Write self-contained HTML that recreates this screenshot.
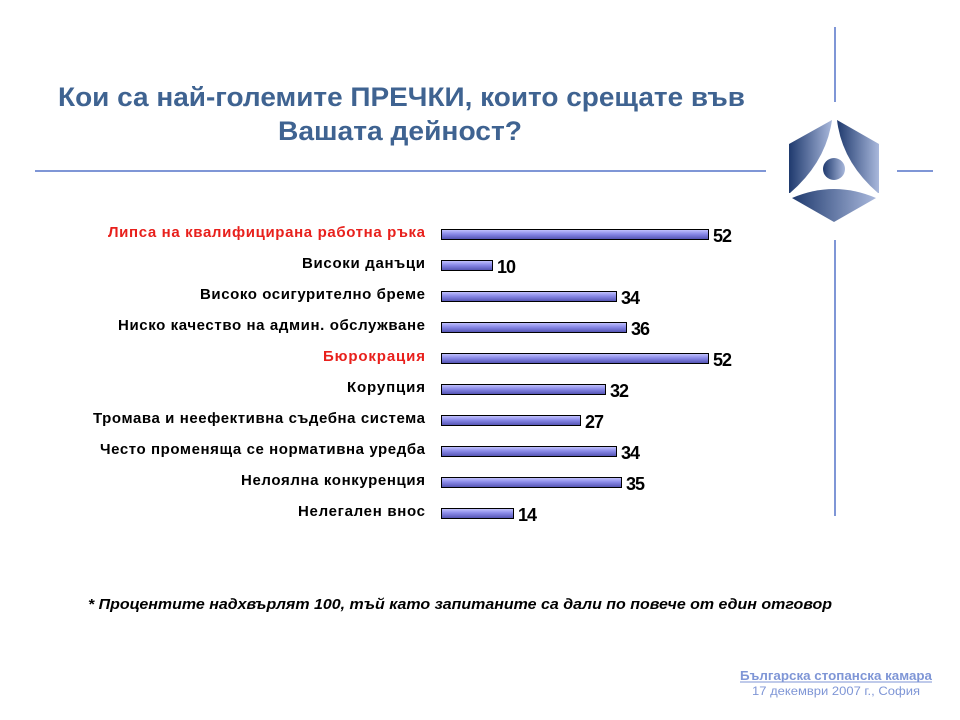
<!DOCTYPE html>
<html><head><meta charset="utf-8"><style>
html,body{margin:0;padding:0;background:#fff;}
svg{display:block;}
</style></head><body>
<svg width="960" height="720" viewBox="0 0 960 720" xmlns="http://www.w3.org/2000/svg" font-family="Liberation Sans, DejaVu Sans, sans-serif">
<defs>
<linearGradient id="bar" x1="0" y1="0" x2="0" y2="1">
<stop offset="0" stop-color="#c8c8ff"/><stop offset="0.45" stop-color="#8a8ae8"/><stop offset="1" stop-color="#5050b0"/>
</linearGradient>
<linearGradient id="lg" x1="0" y1="0" x2="1" y2="0">
<stop offset="0" stop-color="#1f3a6e"/><stop offset="1" stop-color="#a9b8dc"/>
</linearGradient>
</defs>
<line x1="835" y1="27" x2="835" y2="102" stroke="#7f96d6" stroke-width="2"/>
<line x1="835" y1="240" x2="835" y2="516" stroke="#7f96d6" stroke-width="2"/>
<line x1="35" y1="171" x2="766" y2="171" stroke="#7f96d6" stroke-width="2"/>
<line x1="897" y1="171" x2="933" y2="171" stroke="#7f96d6" stroke-width="2"/>
<!-- logo -->
<path d="M832 120 Q826 162 790 193 L789 193 L789 144 Z" fill="url(#lg)"/>
<path d="M837 120 L879 144 L879 193 L878 193 Q842 162 837 120 Z" fill="url(#lg)"/>
<path d="M792 198 Q834 180 876 198 L834 222 Z" fill="url(#lg)"/>
<circle cx="834" cy="169" r="11" fill="url(#lg)"/>
<g font-weight="bold" fill="#3f6391" font-size="27">
<text x="58" y="106" textLength="687" lengthAdjust="spacingAndGlyphs">Кои са най-големите ПРЕЧКИ, които срещате във</text>
<text x="278" y="140" textLength="244" lengthAdjust="spacingAndGlyphs">Вашата дейност?</text>
</g>
<g font-size="15" font-weight="bold" fill="#000" lengthAdjust="spacingAndGlyphs">
<text x="108" y="237" textLength="317" fill="#e8201c">Липса на квалифицирана работна ръка</text>
<text x="302" y="268" textLength="123">Високи данъци</text>
<text x="200" y="299" textLength="225">Високо осигурително бреме</text>
<text x="118" y="330" textLength="307">Ниско качество на админ.  обслужване</text>
<text x="323" y="361" textLength="102" fill="#e8201c">Бюрокрация</text>
<text x="347" y="392" textLength="78">Корупция</text>
<text x="93" y="423" textLength="332">Тромава и неефективна съдебна система</text>
<text x="100" y="454" textLength="325">Често променяща се нормативна уредба</text>
<text x="241" y="485" textLength="184">Нелоялна конкуренция</text>
<text x="298" y="516" textLength="127">Нелегален внос</text>
</g>
<g stroke="#000" stroke-width="1" fill="url(#bar)">
<rect x="441.5" y="229.5" width="267" height="10"/>
<rect x="441.5" y="260.5" width="51" height="10"/>
<rect x="441.5" y="291.5" width="175" height="10"/>
<rect x="441.5" y="322.5" width="185" height="10"/>
<rect x="441.5" y="353.5" width="267" height="10"/>
<rect x="441.5" y="384.5" width="164" height="10"/>
<rect x="441.5" y="415.5" width="139" height="10"/>
<rect x="441.5" y="446.5" width="175" height="10"/>
<rect x="441.5" y="477.5" width="180" height="10"/>
<rect x="441.5" y="508.5" width="72" height="10"/>
</g>
<g font-weight="bold" font-size="18" fill="#000" lengthAdjust="spacingAndGlyphs">
<text x="713" y="242" textLength="19">52</text>
<text x="497" y="273" textLength="19">10</text>
<text x="621" y="304" textLength="19">34</text>
<text x="631" y="335" textLength="19">36</text>
<text x="713" y="366" textLength="19">52</text>
<text x="610" y="397" textLength="19">32</text>
<text x="585" y="428" textLength="19">27</text>
<text x="621" y="459" textLength="19">34</text>
<text x="626" y="490" textLength="19">35</text>
<text x="518" y="521" textLength="19">14</text>
</g>
<text x="88" y="609" textLength="744" lengthAdjust="spacingAndGlyphs" font-size="15" font-weight="bold" font-style="italic" fill="#000">* Процентите надхвърлят 100, тъй като запитаните са дали по повече от един отговор</text>
<text x="740" y="680" textLength="192" lengthAdjust="spacingAndGlyphs" font-size="13" font-weight="bold" fill="#7f96d6">Българска стопанска камара</text>
<line x1="740" y1="682" x2="932" y2="682" stroke="#7f96d6" stroke-width="1"/>
<text x="752" y="695" textLength="168" lengthAdjust="spacingAndGlyphs" font-size="12" fill="#7f96d6">17 декември 2007 г., София</text>
</svg>
</body></html>
